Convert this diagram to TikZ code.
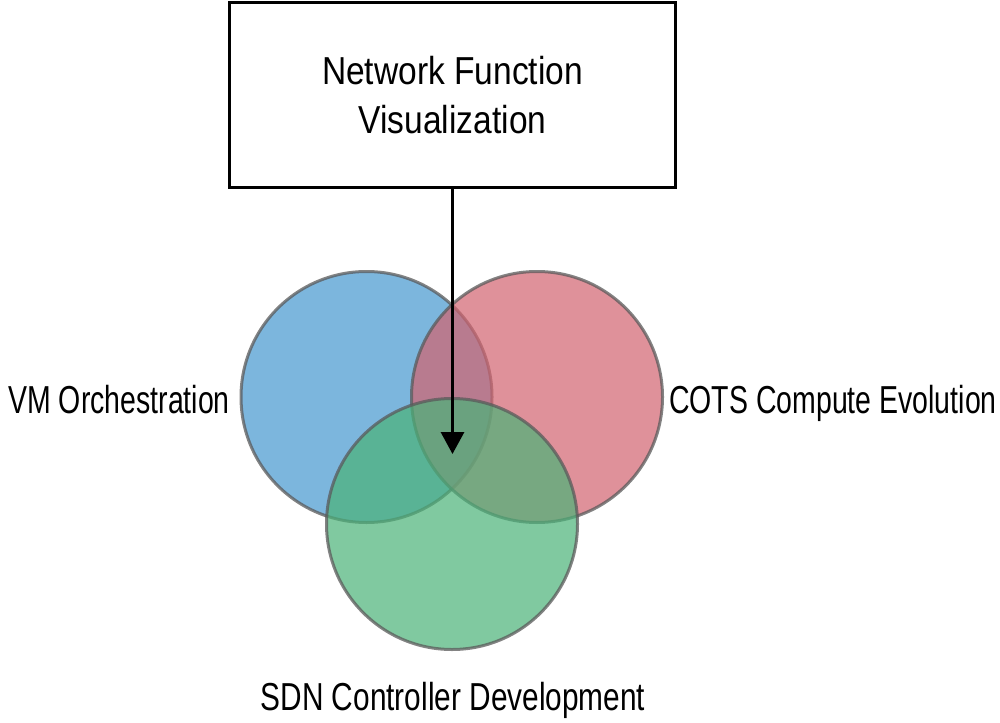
\documentclass[tikz,border=0pt]{standalone}
\usepackage{fontspec}
\setmainfont{Liberation Sans}[FakeStretch=0.73]
\newfontfamily\titlefont{Liberation Sans}[FakeStretch=0.86]
\newfontfamily\sdnfont{Liberation Sans}[FakeStretch=0.765]
\usetikzlibrary{arrows.meta}
\definecolor{cblue}{RGB}{69,151,206}
\definecolor{cred}{RGB}{210,98,111}
\definecolor{cgreen}{RGB}{74,178,120}
\definecolor{cborder}{RGB}{90,90,90}
\begin{document}
\begin{tikzpicture}[x=1pt,y=-1pt,
  lbl/.style={font=\fontsize{39}{49}\selectfont, inner sep=0pt},
  venn/.style={circle, minimum size=251pt, inner sep=0pt, fill opacity=0.7, draw=cborder, draw opacity=0.75, line width=3pt},
  titlebox/.style={draw=black, line width=3pt, minimum width=446pt, minimum height=184pt, align=center, font=\titlefont\fontsize{39}{49}\selectfont},
  arr/.style={line width=3.2pt, -{Triangle[width=23pt,length=22pt]}}]
\useasboundingbox (0,0) rectangle (1000,722);
\node[venn, fill=cblue] (vm) at (366.5,397) {};
\node[venn, fill=cred] (cots) at (537,397) {};
\node[venn, fill=cgreen] (sdn) at (452,524) {};
\node[titlebox] (nfv) at (452.5,95) {Network Function\\Visualization};
\coordinate (tip) at (452.5,454);
\draw[arr] (nfv.south) -- (tip);
\node[lbl, anchor=base east] (vmlbl) at (230,413) {VM Orchestration};
\node[lbl, anchor=base west] (cotslbl) at (669,413) {COTS Compute Evolution};
\node[lbl, anchor=base, font=\sdnfont\fontsize{39}{49}\selectfont] (sdnlbl) at (453,710) {SDN Controller Development};
\end{tikzpicture}
\end{document}
